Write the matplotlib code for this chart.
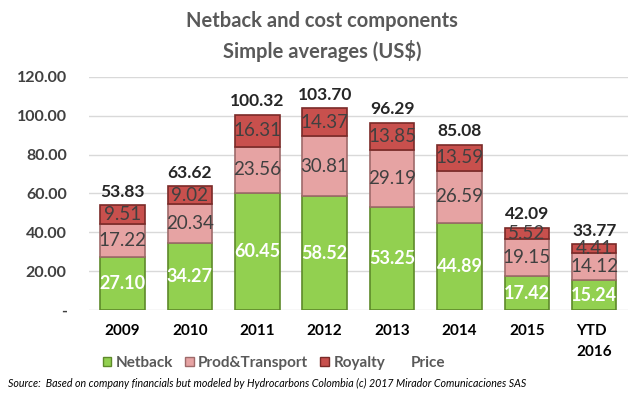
import matplotlib
matplotlib.use("Agg")
import matplotlib.pyplot as plt
import numpy as np
from matplotlib.patches import Patch

categories = ["2009", "2010", "2011", "2012", "2013", "2014", "2015", "YTD\n2016"]
netback = [27.10, 34.27, 60.45, 58.52, 53.25, 44.89, 17.42, 15.24]
prod_transport = [17.22, 20.34, 23.56, 30.81, 29.19, 26.59, 19.15, 14.12]
royalty = [9.51, 9.02, 16.31, 14.37, 13.85, 13.59, 5.52, 4.41]
price = [53.83, 63.62, 100.32, 103.70, 96.29, 85.08, 42.09, 33.77]
yticks = [0, 20, 40, 60, 80, 100, 120]
ytick_labels = ["-", "20.00", "40.00", "60.00", "80.00", "100.00", "120.00"]

plt.rcParams['font.family'] = ['Lato', 'DejaVu Sans']

fig = plt.figure(figsize=(6.44, 3.98), dpi=100)
ax = fig.add_axes([0.138, 0.221, 0.837, 0.586])

x = np.arange(len(categories))
w = 0.66
green = "#92D050"
pink = "#E6A3A3"
red = "#C8504D"
b1 = ax.bar(x, netback, w, color=green, edgecolor="#5E8A2A", linewidth=1.2, zorder=3)
b2 = ax.bar(x, prod_transport, w, bottom=netback, color=pink, edgecolor="#9E6A6A", linewidth=1.2, zorder=3)
bottom3 = np.array(netback) + np.array(prod_transport)
b3 = ax.bar(x, royalty, w, bottom=bottom3, color=red, edgecolor="#7A2A28", linewidth=1.2, zorder=3)

for i in range(len(x)):
    ax.text(x[i], netback[i] / 2, f"{netback[i]:.2f}", ha="center", va="center",
            color="white", fontsize=13, fontweight="bold", zorder=5)
    ax.text(x[i], netback[i] + prod_transport[i] / 2, f"{prod_transport[i]:.2f}", ha="center", va="center",
            color="#404040", fontsize=13.5, zorder=5)
    ax.text(x[i], bottom3[i] + royalty[i] / 2, f"{royalty[i]:.2f}", ha="center", va="center",
            color="#404040", fontsize=13.5, zorder=5)
    ax.text(x[i], price[i] + 3, f"{price[i]:.2f}", ha="center", va="bottom",
            color="#262626", fontsize=12.5, fontweight="bold", zorder=5)

ax.set_xlim(-0.5, len(x) - 0.5)
ax.set_ylim(0, 120)
ax.set_yticks(yticks)
ax.set_yticklabels(ytick_labels, fontsize=11.5, fontweight="bold", color="#404040")
ax.set_xticks(x)
ax.set_xticklabels(categories, fontsize=11, fontweight="bold", color="black", va="top",
                   linespacing=1.6, multialignment="left")
ax.tick_params(axis="both", length=0)
ax.tick_params(axis="x", pad=10)
ax.tick_params(axis="y", pad=16)
for lab in ax.get_yticklabels():
    lab.set_horizontalalignment("right")
for s in ax.spines.values():
    s.set_visible(False)
ax.yaxis.grid(True, color="#D9D9D9", linewidth=1, zorder=0)
ax.set_axisbelow(True)

fig.text(0.5, 0.948, "Netback and cost components", ha="center", va="center",
         fontsize=14.5, fontweight="bold", color="#595959")
fig.text(0.5, 0.872, "Simple averages (US$)", ha="center", va="center",
         fontsize=14.5, fontweight="bold", color="#595959")

handles = [Patch(facecolor=green, edgecolor="#5E8A2A"),
           Patch(facecolor=pink, edgecolor="#9E6A6A"),
           Patch(facecolor=red, edgecolor="#7A2A28"),
           Patch(facecolor="none", edgecolor="none")]
labels = ["Netback", "Prod&Transport", "Royalty", "Price"]
leg = fig.legend(handles, labels, loc="center", bbox_to_anchor=(0.425, 0.088), ncol=4, frameon=False,
                 handlelength=0.55, handleheight=0.55, handletextpad=0.3, columnspacing=0.8,
                 prop={"size": 11, "weight": "bold"})
for t in leg.get_texts():
    t.set_color("#595959")

fig.text(0.012, 0.037, "Source:  Based on company financials but modeled by Hydrocarbons Colombia (c) 2017 Mirador Comunicaciones SAS",
         ha="left", va="center", fontsize=7.7, style="italic", color="black")

fig.savefig("out.png", dpi=100)
